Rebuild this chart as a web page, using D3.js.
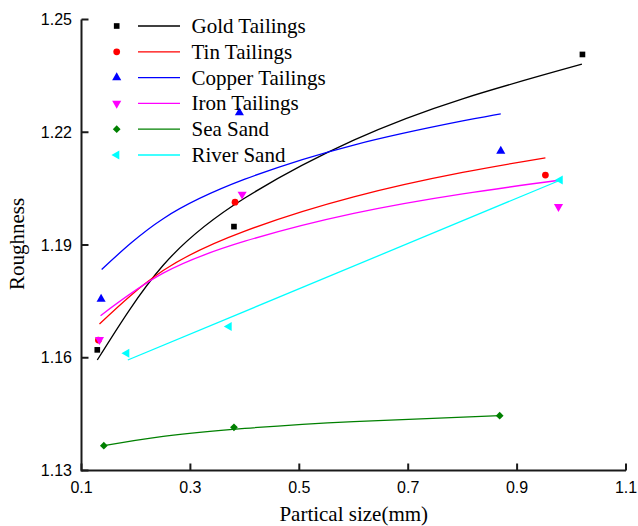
<!DOCTYPE html>
<html>
<head>
<meta charset="utf-8">
<script src="https://cdn.jsdelivr.net/npm/d3@7"></script>
<style>
	body { margin: 0; background: #fff; }
	.tick-label { font-family: "Liberation Sans", Arial, sans-serif; font-size: 16px; fill: #000; }
	.axis-title, .legend-text { font-family: "Liberation Serif", "Times New Roman", serif; font-size: 21px; fill: #000; }
	.axis-line { stroke: #1a1a1a; stroke-width: 2; fill: none; }
	.fit-line { fill: none; stroke-width: 1.3; }
</style>
</head>
<body>
<div id="chart"></div>
<script>

////////////////////////////////////////////////////////////
///////////////////////// Data /////////////////////////////
////////////////////////////////////////////////////////////

var seriesNames = ["Gold Tailings", "Tin Tailings", "Copper Tailings", "Iron Tailings", "Sea Sand", "River Sand"];
var seriesColors = ["#000000", "#ff0000", "#0000ff", "#ff00ff", "#008000", "#00ffff"];

var xTicks = [0.1, 0.3, 0.5, 0.7, 0.9, 1.1];
var yTicks = [1.13, 1.16, 1.19, 1.22, 1.25];

//Measured points [size, roughness]
var goldPoints   = [[0.129, 1.1621], [0.380, 1.1949], [1.020, 1.2407]];
var tinPoints    = [[0.131, 1.1647], [0.382, 1.2014], [0.952, 1.2086]];
var copperPoints = [[0.136, 1.1756], [0.390, 1.2252], [0.870, 1.2150]];
var ironPoints   = [[0.133, 1.1648], [0.395, 1.2035], [0.976, 1.2002]];
var seaPoints    = [[0.141, 1.1366], [0.380, 1.1415], [0.868, 1.1446]];
var riverPoints  = [[0.183, 1.1612], [0.371, 1.1683], [0.979, 1.2073]];

//Fitted curves
var goldFit   = [[0.129, 1.1594], [0.25, 1.1846], [0.4, 1.2025], [0.6, 1.2179], [0.8, 1.2289], [1.019, 1.2381]];
var tinFit    = [[0.133, 1.1690], [0.25, 1.1832], [0.4, 1.1937], [0.6, 1.2028], [0.8, 1.2093], [0.952, 1.2132]];
var copperFit = [[0.137, 1.1835], [0.25, 1.1970], [0.4, 1.2075], [0.6, 1.2166], [0.8, 1.2230], [0.870, 1.2249]];
var ironFit   = [[0.135, 1.1712], [0.25, 1.1825], [0.4, 1.1910], [0.6, 1.1984], [0.8, 1.2036], [0.980, 1.2073]];
var seaFit    = [[0.141, 1.1366], [0.25, 1.1391], [0.4, 1.1412], [0.6, 1.1430], [0.868, 1.1446]];
var riverFit  = [[0.185, 1.1594], [0.980, 1.2073]];

var allPoints = [goldPoints, tinPoints, copperPoints, ironPoints, seaPoints, riverPoints];
var allFits = [goldFit, tinFit, copperFit, ironFit, seaFit, riverFit];

////////////////////////////////////////////////////////////
///////////////////////// Setup ////////////////////////////
////////////////////////////////////////////////////////////

var width = 638, height = 526;

var svg = d3.select("#chart").append("svg")
	.attr("width", width)
	.attr("height", height);

var xScale = d3.scaleLinear().domain([0.1, 1.1]).range([81.5, 626]);
var yScale = d3.scaleLinear().domain([1.13, 1.25]).range([470.5, 19.5]);

//Diamond is drawn as a square turned by 45 degrees
var symbols = [
	{type: d3.symbolSquare, size: 32, rot: 0},
	{type: d3.symbolCircle, size: 36, rot: 0},
	{type: d3.symbolTriangle, size: 36, rot: 0},
	{type: d3.symbolTriangle, size: 36, rot: 180},
	{type: d3.symbolSquare, size: 30, rot: 45},
	{type: d3.symbolTriangle, size: 36, rot: -90}
];

////////////////////////////////////////////////////////////
///////////////////////// Axes /////////////////////////////
////////////////////////////////////////////////////////////

var tickLen = 7;
var axes = svg.append("g").attr("class", "axes");

axes.append("line")
	.attr("class", "axis-line")
	.attr("x1", xScale.range()[0]).attr("x2", xScale.range()[1])
	.attr("y1", yScale(1.13)).attr("y2", yScale(1.13));

axes.append("line")
	.attr("class", "axis-line")
	.attr("x1", xScale(0.1)).attr("x2", xScale(0.1))
	.attr("y1", yScale.range()[0] + 1).attr("y2", yScale.range()[1]);

//Inward ticks on x
axes.selectAll(".x-tick")
	.data(xTicks)
	.enter().append("line")
	.attr("class", "axis-line x-tick")
	.attr("x1", function(d) { return xScale(d); })
	.attr("x2", function(d) { return xScale(d); })
	.attr("y1", yScale(1.13))
	.attr("y2", yScale(1.13) - tickLen);

axes.selectAll(".x-label")
	.data(xTicks)
	.enter().append("text")
	.attr("class", "tick-label x-label")
	.attr("x", function(d) { return xScale(d); })
	.attr("y", 493)
	.attr("text-anchor", "middle")
	.text(function(d) { return d3.format(".1f")(d); });

//Inward ticks on y
axes.selectAll(".y-tick")
	.data(yTicks)
	.enter().append("line")
	.attr("class", "axis-line y-tick")
	.attr("x1", xScale(0.1))
	.attr("x2", xScale(0.1) + tickLen)
	.attr("y1", function(d) { return yScale(d); })
	.attr("y2", function(d) { return yScale(d); });

axes.selectAll(".y-label")
	.data(yTicks)
	.enter().append("text")
	.attr("class", "tick-label y-label")
	.attr("x", 72)
	.attr("y", function(d) { return yScale(d); })
	.attr("dy", "0.35em")
	.attr("text-anchor", "end")
	.text(function(d) { return d3.format(".2f")(d); });

//Titles
svg.append("text")
	.attr("class", "axis-title")
	.attr("x", (xScale.range()[0] + xScale.range()[1]) / 2)
	.attr("y", 521)
	.attr("text-anchor", "middle")
	.text("Partical size(mm)");

svg.append("text")
	.attr("class", "axis-title")
	.attr("transform", "translate(24," + 244 + ")rotate(-90)")
	.attr("text-anchor", "middle")
	.text("Roughness");

////////////////////////////////////////////////////////////
///////////////////// Lines & points ///////////////////////
////////////////////////////////////////////////////////////

var line = d3.line()
	.x(function(d) { return xScale(d[0]); })
	.y(function(d) { return yScale(d[1]); })
	.curve(d3.curveNatural);

svg.append("g").selectAll(".fit-line")
	.data(allFits)
	.enter().append("path")
	.attr("class", "fit-line")
	.style("stroke", function(d, i) { return seriesColors[i]; })
	.attr("d", line);

allPoints.forEach(function(pts, i) {
	svg.append("g").selectAll(".marker")
		.data(pts)
		.enter().append("path")
		.attr("class", "marker")
		.attr("transform", function(d) {
			return "translate(" + xScale(d[0]) + "," + yScale(d[1]) + ")rotate(" + symbols[i].rot + ")";
		})
		.style("fill", seriesColors[i])
		.attr("d", d3.symbol().type(symbols[i].type).size(symbols[i].size));
});

////////////////////////////////////////////////////////////
///////////////////////// Legend ///////////////////////////
////////////////////////////////////////////////////////////

var legend = svg.append("g").attr("class", "legend");

var legendRows = legend.selectAll(".legend-row")
	.data(seriesNames)
	.enter().append("g")
	.attr("class", "legend-row")
	.attr("transform", function(d, i) { return "translate(0," + (26 + i * 25.8) + ")"; });

legendRows.append("path")
	.attr("transform", function(d, i) { return "translate(116.7,0)rotate(" + symbols[i].rot + ")"; })
	.style("fill", function(d, i) { return seriesColors[i]; })
	.attr("d", function(d, i) { return d3.symbol().type(symbols[i].type).size(symbols[i].size)(); });

legendRows.append("line")
	.attr("x1", 138).attr("x2", 180)
	.style("stroke", function(d, i) { return seriesColors[i]; })
	.style("stroke-width", 1.3);

legendRows.append("text")
	.attr("class", "legend-text")
	.attr("x", 191.5)
	.attr("y", 7)
	.text(function(d) { return d; });

</script>
</body>
</html>
